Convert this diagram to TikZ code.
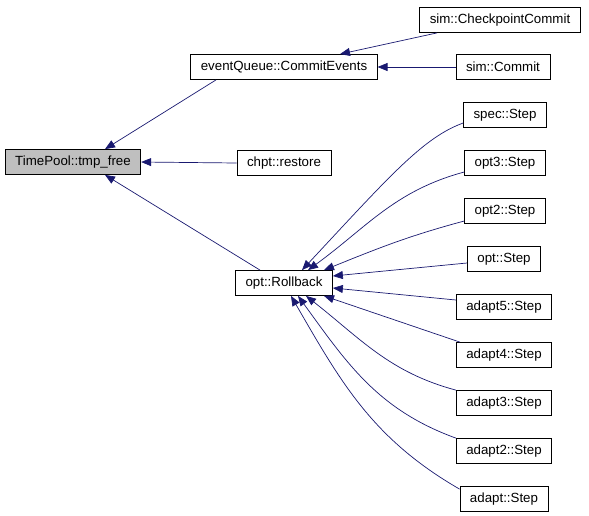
\documentclass[tikz,border=0pt]{standalone}
\usepackage{fontspec}
\setmainfont{Liberation Sans}
\usepackage{tikz}
\usetikzlibrary{arrows.meta,positioning}
\definecolor{edgeblue}{RGB}{25,25,112}

\begin{document}
\begin{tikzpicture}[x=1pt,y=-1pt,>={Triangle[length=10pt,width=8pt]},
    fn/.style={draw,line width=0.8pt,inner xsep=10pt,inner ysep=0pt,minimum height=25pt,
      font=\fontsize{13.3}{16}\selectfont},
    call/.style={->,edgeblue,line width=0.7pt}]
  \useasboundingbox (0,0) rectangle (589,515);
  % the function and its callers
  \node[fn,fill=black!25] (tmp) at (73,162) {TimePool::tmp\_free};
  \node[fn] (cev) at (284,67) {eventQueue::CommitEvents};
  \node[fn] (restore) at (284,163) {chpt::restore};
  \node[fn] (rb) at (284,283) {opt::Rollback};
  \node[fn] (ckpt) at (500,20) {sim::CheckpointCommit};
  \node[fn] (scommit) at (503,67) {sim::Commit};
  \node[fn] (spec) at (505,115) {spec::Step};
  \node[fn] (o3) at (505,163) {opt3::Step};
  \node[fn] (o2) at (505,211) {opt2::Step};
  \node[fn] (o1) at (504,259) {opt::Step};
  \node[fn] (a5) at (504,307) {adapt5::Step};
  \node[fn] (a4) at (504,355) {adapt4::Step};
  \node[fn] (a3) at (504,403) {adapt3::Step};
  \node[fn] (a2) at (504,451) {adapt2::Step};
  \node[fn] (a0) at (504,499) {adapt::Step};
  % edges
  \draw[call] ([xshift=-68pt]cev.south) -- ([xshift=32pt]tmp.north);
  \draw[call] (restore.west) -- (tmp.east);
  \draw[call] ([xshift=-24pt]rb.north) -- ([xshift=32pt]tmp.south);
  \draw[call] ([xshift=-63pt]ckpt.south) -- ([xshift=56pt]cev.north);
  \draw[call] (scommit.west) -- (cev.east);
  \draw[call] ([yshift=-8pt]spec.west) to[out=200,in=47,out looseness=0.5,in looseness=1.5] ([xshift=18pt]rb.north);
  \draw[call] ([yshift=-9pt]o3.west) to[out=195,in=36] ([xshift=24pt]rb.north);
  \draw[call] ([yshift=-10pt]o2.west) to[out=195,in=22] ([xshift=40pt]rb.north);
  \draw[call] ([yshift=-4pt]o1.west) -- ([yshift=7pt]rb.east);
  \draw[call] ([yshift=7pt]a5.west) -- ([yshift=-5pt]rb.east);
  \draw[call] ([xshift=4pt]a4.north west) -- ([xshift=40pt]rb.south);
  \draw[call] (a3.north west) to[out=165,in=-38] ([xshift=22pt]rb.south);
  \draw[call] (a2.north west) to[out=160,in=-54] ([xshift=14pt]rb.south);
  \draw[call] ([yshift=-3pt]a0.north west) to[out=150,in=-60] ([xshift=7pt]rb.south);
\end{tikzpicture}
\end{document}
